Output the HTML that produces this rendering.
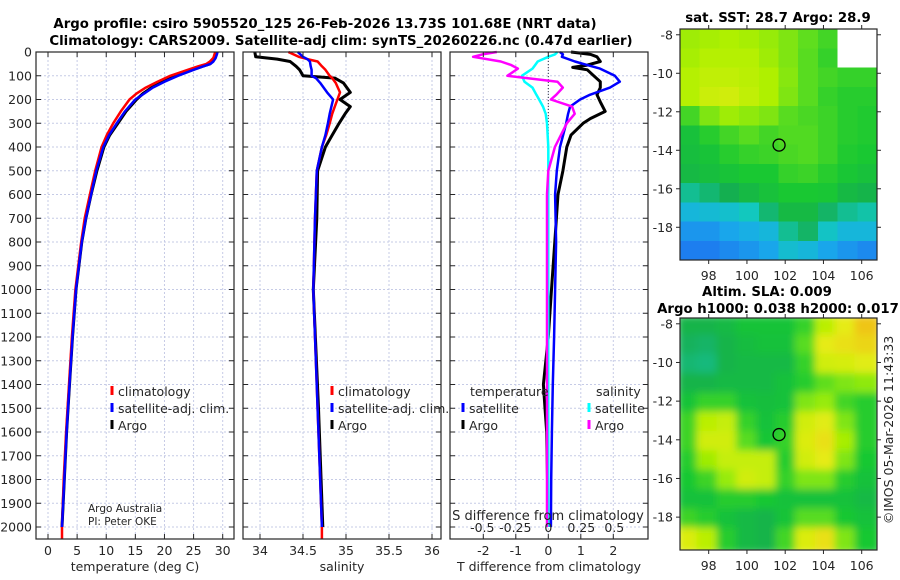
<!DOCTYPE html>
<html><head><meta charset="utf-8">
<style>
html,body{margin:0;padding:0;background:#fff;}
svg{display:block;font-family:"DejaVu Sans","Liberation Sans",sans-serif;}
.tk{font-size:12.5px;fill:#262626;}
.ttl{font-size:13.3px;font-weight:bold;fill:#000;}
</style></head>
<body>
<svg id="fig" width="900" height="580" viewBox="0 0 900 580" xmlns="http://www.w3.org/2000/svg">
<text class="ttl" x="325" y="28" text-anchor="middle">Argo profile: csiro 5905520_125 26-Feb-2026 13.73S 101.68E (NRT data)</text>
<text class="ttl" x="341" y="45" text-anchor="middle">Climatology: CARS2009. Satellite-adj clim: synTS_20260226.nc (0.47d earlier)</text>
<text class="ttl" x="778" y="22" text-anchor="middle">sat. SST: 28.7 Argo: 28.9</text>
<text class="ttl" x="767" y="296" text-anchor="middle">Altim. SLA: 0.009</text>
<text class="ttl" x="778" y="313" text-anchor="middle">Argo h1000: 0.038 h2000: 0.017</text>
<text class="tk" transform="translate(893,430) rotate(-90)" text-anchor="middle">©IMOS 05-Mar-2026 11:43:33</text>
<g id="plots"></g>
</svg>
<script>
// ---------- data ----------
const depths = [0,10,25,40,50,60,75,100,125,150,175,200,250,300,350,400,500,600,700,800,900,1000,1200,1400,1600,1800,2000];
const tempArgo = [29.0,28.9,28.7,28.3,27.8,26.5,24.8,22.0,19.8,17.8,16.3,15.2,13.4,12.0,10.6,9.6,8.4,7.4,6.5,5.8,5.3,4.8,4.2,3.7,3.2,2.8,2.4];
const tempClim = [28.7,28.6,28.4,27.8,27.2,25.8,24.0,21.0,18.8,16.8,15.2,14.0,12.5,11.2,10.1,9.2,8.1,7.2,6.3,5.7,5.2,4.7,4.1,3.6,3.1,2.7,2.4];
const tempSat = [29.1,29.0,28.8,28.4,27.9,26.7,25.0,22.3,20.0,18.0,16.5,15.0,13.2,11.8,10.5,9.5,8.3,7.4,6.5,5.8,5.3,4.8,4.2,3.7,3.2,2.8,2.4];
const salDepths = [0,20,30,40,60,75,100,110,130,170,200,230,260,300,350,400,500,700,1000,1500,2000];
const salArgo = [33.94,33.95,34.2,34.35,34.42,34.46,34.5,34.87,34.97,35.05,34.93,35.05,34.99,34.92,34.84,34.76,34.67,34.66,34.62,34.68,34.73];
const salClim = [34.33,34.45,34.55,34.67,34.72,34.76,34.81,34.84,34.88,34.93,34.9,34.87,34.84,34.81,34.77,34.72,34.66,34.64,34.62,34.67,34.72];
const salSat = [34.44,34.5,34.55,34.58,34.59,34.6,34.6,34.65,34.7,34.78,34.85,34.83,34.81,34.79,34.76,34.72,34.66,34.64,34.62,34.67,34.72];
const diffDepths = [0,10,20,40,55,70,100,125,150,180,200,230,260,300,400,500,600,800,1000,1200,1400,1600,1800,2000];
const dTempSat = [0.36,0.45,0.42,0.82,1.2,1.59,2.05,2.2,1.9,1.28,0.98,0.67,0.61,0.55,0.36,0.26,0.21,0.24,0.21,0.18,0.14,0.11,0.09,0.08];
const dSalSat = [0.07,0.05,0.0,-0.08,-0.1,-0.12,-0.2,-0.18,-0.12,-0.09,-0.07,-0.04,-0.02,-0.01,0.0,0.0,0.0,0.0,0.0,0.0,0.0,0.0,0.0,0.0];
const dSalArgo = [-0.39,-0.5,-0.57,-0.36,-0.28,-0.23,-0.31,0.07,0.11,0.06,0.02,0.18,0.2,0.14,0.05,0.0,-0.01,-0.01,-0.01,-0.01,-0.01,-0.01,-0.01,-0.01];
const argoDiffDepths = [0,10,20,40,55,65,75,100,125,150,180,210,250,280,300,350,400,500,600,800,1000,1200,1400,1500,1600,2000];
const dTempArgo = [0.7,1.3,1.5,1.6,1.2,0.75,1.2,1.4,1.6,1.6,1.5,1.6,1.75,1.3,1.07,0.7,0.57,0.45,0.3,0.2,0.1,0.0,-0.15,-0.1,-0.05,0.0];
const depthTicks = [0,100,200,300,400,500,600,700,800,900,1000,1100,1200,1300,1400,1500,1600,1700,1800,1900,2000];
const tempTicks = [0,5,10,15,20,25,30];
const salTicks = [34,34.5,35,35.5,36];
const salTickLabels = ['34','34.5','35','35.5','36'];
const dTempTicks = [-2,-1,0,1,2];
const dSalTicks = [-0.5,-0.25,0,0.25,0.5];
const dSalTickLabels = ['-0.5','-0.25','0','0.25','0.5'];
const lonTicks = [98,100,102,104,106];
const latTicks = [-8,-10,-12,-14,-16,-18];
const mapLons = [96.5,97.53,98.56,99.59,100.62,101.65,102.68,103.71,104.74,105.77,106.8];
const mapLats = [-7.7,-8.7,-9.7,-10.7,-11.7,-12.7,-13.7,-14.7,-15.7,-16.7,-17.7,-18.7,-19.7];
const sstGrid = [
[0.76,0.77,0.78,0.77,0.75,0.72,0.68,0.64,null,null],
[0.77,0.79,0.79,0.79,0.76,0.72,0.67,0.62,null,null],
[0.79,0.81,0.81,0.8,0.78,0.73,0.67,0.64,0.62,0.62],
[0.79,0.83,0.84,0.81,0.78,0.72,0.67,0.62,0.6,0.6],
[0.64,0.72,0.76,0.74,0.72,0.67,0.65,0.63,0.6,0.59],
[0.55,0.6,0.64,0.67,0.64,0.66,0.66,0.63,0.6,0.59],
[0.54,0.56,0.6,0.62,0.63,0.65,0.66,0.63,0.59,0.58],
[0.52,0.54,0.56,0.58,0.58,0.62,0.63,0.6,0.57,0.55],
[0.42,0.45,0.48,0.52,0.55,0.58,0.58,0.57,0.52,0.5],
[0.3,0.32,0.34,0.38,0.45,0.52,0.52,0.46,0.42,0.4],
[0.2,0.2,0.24,0.27,0.3,0.42,0.46,0.36,0.3,0.3],
[0.14,0.14,0.17,0.2,0.24,0.33,0.3,0.24,0.2,0.17]];
const slaGrid = [
[0.5,0.5,0.52,0.56,0.56,0.56,0.62,0.8,0.88,0.95],
[0.47,0.46,0.5,0.53,0.55,0.55,0.67,0.88,0.9,0.92],
[0.45,0.44,0.5,0.52,0.52,0.52,0.62,0.84,0.85,0.87],
[0.5,0.5,0.52,0.52,0.52,0.55,0.6,0.68,0.72,0.74],
[0.56,0.62,0.62,0.55,0.54,0.55,0.72,0.75,0.64,0.6],
[0.63,0.8,0.82,0.62,0.55,0.6,0.84,0.87,0.72,0.6],
[0.63,0.84,0.84,0.67,0.57,0.62,0.86,0.9,0.77,0.6],
[0.6,0.76,0.82,0.82,0.82,0.6,0.84,0.88,0.72,0.58],
[0.58,0.63,0.75,0.84,0.82,0.62,0.72,0.72,0.6,0.55],
[0.55,0.55,0.6,0.6,0.58,0.55,0.55,0.55,0.55,0.52],
[0.63,0.6,0.55,0.52,0.5,0.56,0.67,0.67,0.58,0.55],
[0.86,0.8,0.6,0.52,0.5,0.64,0.86,0.9,0.72,0.58]];
const floatLon = [101.68];
const floatLat = [-13.73];

// ---------- helpers ----------
const NS='http://www.w3.org/2000/svg';
const root=document.getElementById('plots');
function mk(tag,attrs,parent){const e=document.createElementNS(NS,tag);for(const k in attrs)e.setAttribute(k,attrs[k]);(parent||root).appendChild(e);return e;}
const TOP=52, BOT=539;
function yD(d){return TOP+d*(527-TOP)/2000;}
function scale(d0,d1,r0,r1){return v=>r0+(v-d0)*(r1-r0)/(d1-d0);}
const panels=[
 {x0:36,x1:234,sx:scale(0,30,48,222.7),ticks:tempTicks,labels:tempTicks.map(String),title:'temperature (deg C)',name:'temperature-panel'},
 {x0:243,x1:441,sx:scale(34,36,260,432),ticks:salTicks,labels:salTickLabels,title:'salinity',name:'salinity-panel'},
 {x0:450,x1:648,sx:scale(0,2,548.3,613.3),ticks:dTempTicks,labels:dTempTicks.map(String),title:'T difference from climatology',name:'difference-panel'}];
const sxS=scale(0,0.5,548.3,614.3);

panels.forEach(p=>{
 const g=mk('g',{});
 
 
 depthTicks.forEach(d=>{const l=mk('line',{x1:p.x0,x2:p.x1,y1:yD(d),y2:yD(d),stroke:'#c6cbe6','stroke-width':1,'stroke-dasharray':'2,2'},g);
  
  });
 p.ticks.forEach(t=>{const l=mk('line',{x1:p.sx(t),x2:p.sx(t),y1:TOP,y2:BOT,stroke:'#c6cbe6','stroke-width':1,'stroke-dasharray':'2,2'},g);
  
  });
});
{const l=mk('line',{x1:548.3,x2:548.3,y1:TOP,y2:yD(400),stroke:'#334',"stroke-width":1,'stroke-dasharray':'1,2'});

}

function series(sx,vals,ds,color,w,name){
 const pts=vals.map((v,i)=>sx(v).toFixed(1)+','+yD(ds[i]).toFixed(1)).join(' ');
 const e=mk('polyline',{points:pts,fill:'none',stroke:color,'stroke-width':w,'stroke-linejoin':'round'});
 
 
 return e;
}
const P=panels;
series(P[0].sx,tempArgo,depths,'#000',3,'temperature-argo-line');
series(P[0].sx,tempClim.concat([tempClim[tempClim.length-1]]),depths.concat([2050]),'#f00',2.5,'temperature-climatology-line');
series(P[0].sx,tempSat,depths,'#00f',2.5,'temperature-satellite-line');
series(P[1].sx,salArgo,salDepths,'#000',3,'salinity-argo-line');
series(P[1].sx,salClim.concat([salClim[salClim.length-1]]),salDepths.concat([2050]),'#f00',2.5,'salinity-climatology-line');
series(P[1].sx,salSat,salDepths,'#00f',2.5,'salinity-satellite-line');
series(P[2].sx,dTempArgo,argoDiffDepths,'#000',3,'tdiff-argo-line');
series(P[2].sx,dTempSat,diffDepths,'#00f',2.5,'tdiff-satellite-line');
series(sxS,dSalSat,diffDepths,'#0ff',2.5,'sdiff-satellite-line');
series(sxS,dSalArgo,diffDepths,'#f0f',2.5,'sdiff-argo-line');

panels.forEach((p,pi)=>{
 const fr=mk('rect',{x:p.x0,y:TOP,width:p.x1-p.x0,height:BOT-TOP,fill:'none',stroke:'#262626','stroke-width':1.2});
 
 
 depthTicks.forEach(d=>{
  mk('line',{x1:p.x0,x2:p.x0+5,y1:yD(d),y2:yD(d),stroke:'#262626'});
  mk('line',{x1:p.x1-5,x2:p.x1,y1:yD(d),y2:yD(d),stroke:'#262626'});
  if(pi===0){const t=mk('text',{x:32,y:yD(d)+4.5,'text-anchor':'end',class:'tk'});t.textContent=d;
   
   }
 });
 p.ticks.forEach((v,i)=>{
  mk('line',{x1:p.sx(v),x2:p.sx(v),y1:BOT-5,y2:BOT,stroke:'#262626'});
  mk('line',{x1:p.sx(v),x2:p.sx(v),y1:TOP,y2:TOP+5,stroke:'#262626'});
  const t=mk('text',{x:p.sx(v),y:555,'text-anchor':'middle',class:'tk'});t.textContent=p.labels[i];
  
  
 });
 const at=mk('text',{x:(p.x0+p.x1)/2,y:571,'text-anchor':'middle',class:'tk'});at.textContent=p.title;
 
 
});
dSalTicks.forEach((v,i)=>{
 const t=mk('text',{x:sxS(v),y:532,'text-anchor':'middle',class:'tk'});t.textContent=dSalTickLabels[i];
 
 
});
{const t=mk('text',{x:548,y:520,'text-anchor':'middle',class:'tk',style:'font-size:13px'});t.textContent='S difference from climatology';

}

function legend(x,y,color,label,name){
 const b=mk('rect',{x:x-1.5,y:y-10,width:3,height:9,fill:color});
 
 
 const t=mk('text',{x:x+6,y:y,class:'tk'});t.textContent=label;
 
 
}
legend(112,396,'#f00','climatology','legend-climatology');
legend(112,413,'#00f','satellite-adj. clim.','legend-satellite');
legend(112,430,'#000','Argo','legend-argo');
legend(332,396,'#f00','climatology','legend-climatology-2');
legend(332,413,'#00f','satellite-adj. clim.','legend-satellite-2');
legend(332,430,'#000','Argo','legend-argo-2');
legend(463,413,'#00f','satellite','legend-t-satellite');
legend(463,430,'#000','Argo','legend-t-argo');
legend(589,413,'#0ff','satellite','legend-s-satellite');
legend(589,430,'#f0f','Argo','legend-s-argo');
{let t=mk('text',{x:470,y:396,class:'tk'});t.textContent='temperature';


t=mk('text',{x:596,y:396,class:'tk'});t.textContent='salinity';


t=mk('text',{x:88,y:512,class:'tk',style:'font-size:10.5px'});t.textContent='Argo Australia';


t=mk('text',{x:88,y:525,class:'tk',style:'font-size:10.5px'});t.textContent='PI: Peter OKE';

}

// ---------- maps ----------
const stops=[[0.1,[30,110,240]],[0.25,[25,170,235]],[0.38,[18,200,190]],[0.48,[20,175,80]],[0.58,[25,200,50]],[0.68,[95,222,30]],[0.78,[175,240,0]],[0.88,[230,235,20]],[1.0,[245,170,20]]];
function cmap(v){
 if(v<=stops[0][0])return 'rgb('+stops[0][1]+')';
 for(let i=1;i<stops.length;i++){if(v<=stops[i][0]){const a=stops[i-1],b=stops[i],f=(v-a[0])/(b[0]-a[0]);
  return 'rgb('+a[1].map((c,j)=>Math.round(c+(b[1][j]-c)*f)).join(',')+')';}}
 return 'rgb('+stops[stops.length-1][1]+')';
}
function drawMap(box,grid,name,blur){
 const sx=scale(96.5,106.8,box.x0,box.x1), sy=scale(-7.7,-19.7,box.y0,box.y1);
 const g=mk('g',{});
 
 
 const cid=name+'-clip';
 const cp=mk('clipPath',{id:cid},g);mk('rect',{x:box.x0,y:box.y0,width:box.x1-box.x0,height:box.y1-box.y0},cp);
 const inner=mk('g',{'clip-path':'url(#'+cid+')'},g);
 const cells=mk('g',blur?{filter:'url(#'+name+'-blur)'}:{},inner);
 if(blur){const f=mk('filter',{id:name+'-blur',x:'-0.1',y:'-0.1',width:'1.2',height:'1.2'},g);mk('feGaussianBlur',{stdDeviation:blur},f);}
 grid.forEach((row,r)=>row.forEach((v,c)=>{
  const x=sx(mapLons[c]),y=sy(mapLats[r]),w=sx(mapLons[c+1])-x+0.5,h=sy(mapLats[r+1])-y+0.5;
  const e=mk('rect',{x:x-(blur?3:0),y:y-(blur?3:0),width:w+(blur?6:0),height:h+(blur?6:0),fill:v===null?'#fff':cmap(v),'shape-rendering':'crispEdges'},cells);
  
  
 }));
 const fr=mk('rect',{x:box.x0,y:box.y0,width:box.x1-box.x0,height:box.y1-box.y0,fill:'none',stroke:'#262626','stroke-width':1.2},g);
 
 
 lonTicks.forEach(v=>{mk('line',{x1:sx(v),x2:sx(v),y1:box.y1,y2:box.y1+4,stroke:'#262626'},g);
  mk('line',{x1:sx(v),x2:sx(v),y1:box.y0-4,y2:box.y0,stroke:'#262626'},g);
  const t=mk('text',{x:sx(v),y:box.y1+20,'text-anchor':'middle',class:'tk'},g);t.textContent=v;
  
  });
 latTicks.forEach(v=>{mk('line',{x1:box.x0-4,x2:box.x0,y1:sy(v),y2:sy(v),stroke:'#262626'},g);
  mk('line',{x1:box.x1,x2:box.x1+4,y1:sy(v),y2:sy(v),stroke:'#262626'},g);
  const t=mk('text',{x:box.x0-7,y:sy(v)+4.5,'text-anchor':'end',class:'tk'},g);t.textContent=v;
  
  });
 const m=mk('circle',{cx:sx(floatLon[0]),cy:sy(floatLat[0]),r:6,fill:'none',stroke:'#000','stroke-width':1.3},g);
 
 
}
drawMap({x0:680,x1:877,y0:29,y1:260},sstGrid,'sst-map',0);
drawMap({x0:680,x1:877,y0:318,y1:550},slaGrid,'sla-map',4);
</script>
</body></html>
